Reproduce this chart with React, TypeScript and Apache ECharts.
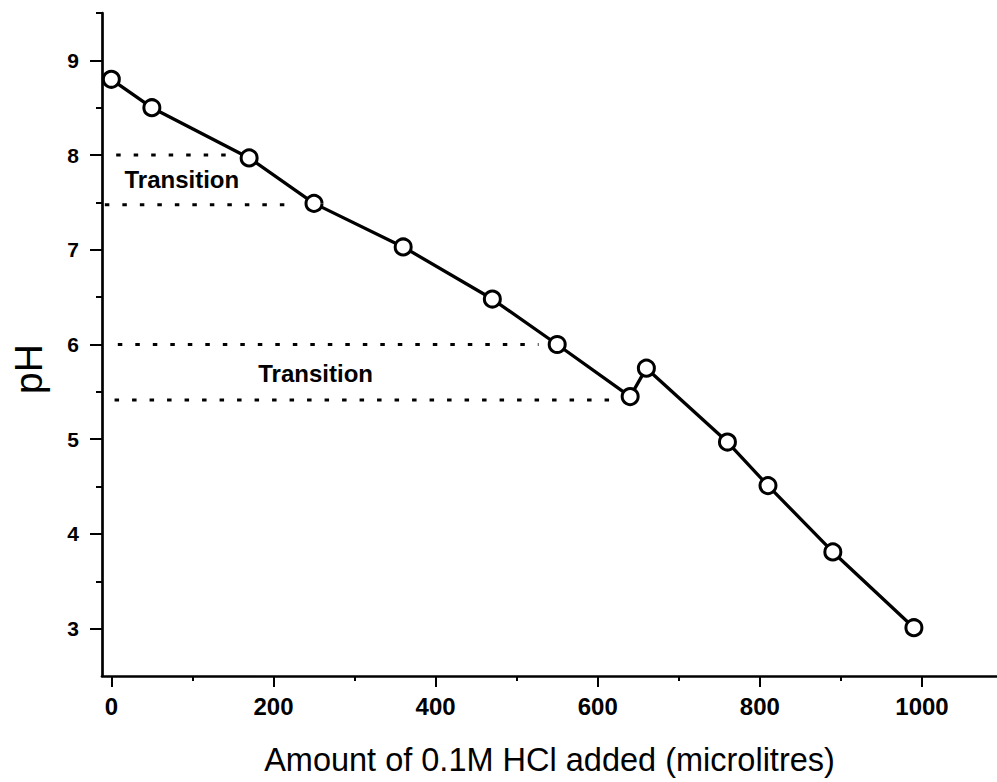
import React, { useEffect, useRef } from "react";
import * as echarts from "echarts";

// Titration data: volume of 0.1M HCl added (microlitres) vs pH
const volumes = [0, 50, 170, 250, 360, 470, 550, 640, 660, 760, 810, 890, 990];
const pHValues = [8.8, 8.5, 7.97, 7.49, 7.03, 6.48, 6.0, 5.45, 5.75, 4.97, 4.51, 3.81, 3.01];

// Axis ticks
const xMajorTicks = [0, 200, 400, 600, 800, 1000];
const xMinorTicks = [100, 300, 500, 700, 900];
const yMajorTicks = [3, 4, 5, 6, 7, 8, 9];
const yMinorTicks = [3.5, 4.5, 5.5, 6.5, 7.5, 8.5, 9.5];

// Dotted transition guide lines (pH level, start volume, end volume)
const guideLevels = [8.0, 7.475, 6.0, 5.415];
const guideStarts = [6, -8, 8, 4];
const guideEnds = [153, 222, 527, 628];

// Transition annotations (centre in data units)
const noteTexts = ["Transition", "Transition"];
const noteX = [87, 252];
const noteY = [7.74, 5.69];

const FONT = "'Liberation Sans', Arial, Helvetica, sans-serif";

export default function App() {
  const ref = useRef<HTMLDivElement>(null);

  useEffect(() => {
    if (!ref.current) return;
    const chart = echarts.init(ref.current, undefined, { renderer: "svg" });

    const guideSeries = guideLevels.map((lvl, i) => ({
      type: "line",
      data: [
        [guideStarts[i], lvl],
        [guideEnds[i], lvl],
      ],
      symbol: "none",
      showSymbol: false,
      silent: true,
      z: 1,
      lineStyle: { color: "#000", width: 3, type: [4.5, 13], cap: "butt" },
    }));

    const option: any = {
      animation: false,
      backgroundColor: "#ffffff",
      grid: {
        left: 102,
        right: 0,
        top: 13,
        bottom: 106,
        containLabel: false,
        outerBoundsMode: "none",
      },
      xAxis: [
        {
          type: "value",
          min: -11.5,
          max: 1092.5,
          position: "bottom",
          axisLine: { show: true, onZero: false, lineStyle: { color: "#000", width: 2.7 } },
          axisTick: {
            show: true,
            inside: false,
            length: 11,
            customValues: xMajorTicks,
            lineStyle: { color: "#000", width: 2 },
          },
          axisLabel: {
            show: true,
            customValues: xMajorTicks,
            formatter: (v: number) => String(v),
            margin: 18,
            color: "#000",
            fontSize: 24,
            fontWeight: "bold",
            fontFamily: FONT,
          },
          splitLine: { show: false },
          name: "Amount of 0.1M HCl added (microlitres)",
          nameLocation: "middle",
          nameGap: 67,
          nameTextStyle: { fontSize: 32.5, color: "#000", fontFamily: FONT },
        },
        {
          type: "value",
          min: -11.5,
          max: 1092.5,
          position: "bottom",
          axisLine: { show: false, onZero: false },
          axisTick: {
            show: true,
            inside: false,
            length: 5,
            customValues: xMinorTicks,
            lineStyle: { color: "#000", width: 2 },
          },
          axisLabel: { show: false },
          splitLine: { show: false },
        },
      ],
      yAxis: [
        {
          type: "value",
          min: 2.5,
          max: 9.5,
          position: "left",
          axisLine: { show: true, onZero: false, lineStyle: { color: "#000", width: 2.7 } },
          axisTick: {
            show: true,
            inside: false,
            length: 12,
            customValues: yMajorTicks,
            lineStyle: { color: "#000", width: 2 },
          },
          axisLabel: {
            show: true,
            customValues: yMajorTicks,
            margin: 23,
            color: "#000",
            fontSize: 21,
            fontWeight: "bold",
            fontFamily: FONT,
          },
          splitLine: { show: false },
        },
        {
          type: "value",
          min: 2.5,
          max: 9.5,
          position: "left",
          axisLine: { show: false, onZero: false },
          axisTick: {
            show: true,
            inside: false,
            length: 6,
            customValues: yMinorTicks,
            lineStyle: { color: "#000", width: 2 },
          },
          axisLabel: { show: false },
          splitLine: { show: false },
        },
      ],
      graphic: [
        {
          type: "text",
          x: 28,
          y: 369,
          rotation: Math.PI / 2,
          style: {
            text: "pH",
            fontSize: 39,
            fontFamily: FONT,
            fill: "#000",
            align: "center",
            verticalAlign: "middle",
          },
        },
      ],
      series: [
        ...guideSeries,
        {
          type: "scatter",
          data: noteX.map((x, i) => ({ name: noteTexts[i], value: [x, noteY[i]] })),
          symbolSize: 1,
          itemStyle: { color: "#ffffff", opacity: 0 },
          silent: true,
          label: {
            show: true,
            position: ["50%", "50%"],
            align: "center",
            verticalAlign: "middle",
            formatter: "{b}",
            color: "#000000",
            opacity: 1,
            textBorderWidth: 0,
            fontSize: 24,
            fontWeight: "bold",
            fontFamily: FONT,
          },
        },
        {
          type: "line",
          data: volumes.map((v, i) => [v, pHValues[i]]),
          symbol: "circle",
          symbolSize: 16,
          showSymbol: true,
          z: 3,
          lineStyle: { color: "#000", width: 3.3 },
          itemStyle: { color: "#fff", borderColor: "#000", borderWidth: 3 },
        },
      ],
    };

    chart.setOption(option);
    return () => chart.dispose();
  }, []);

  return (
    <div
      ref={ref}
      style={{ position: "absolute", left: 0, top: 0, width: 997, height: 782 }}
    />
  );
}
